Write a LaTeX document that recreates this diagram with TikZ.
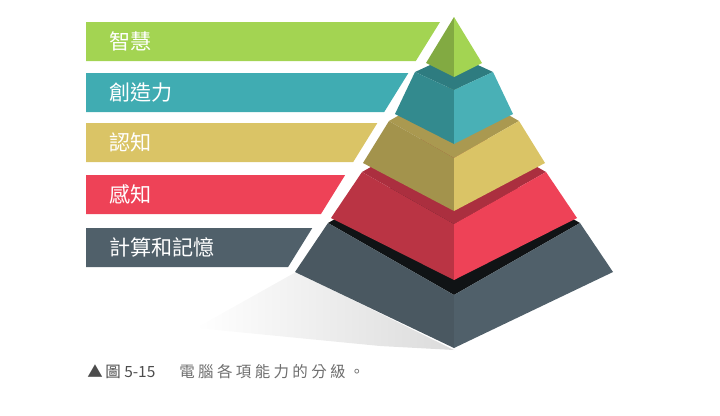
\documentclass[tikz,border=0pt]{standalone}
\usepackage{fontspec}
\newfontfamily\cjk{Noto Sans CJK TC}
\newfontfamily\cjkcap[LetterSpace=22]{Noto Sans CJK TC}
\usetikzlibrary{positioning}

\definecolor{barGreen}{RGB}{163,212,82}
\definecolor{barTeal}{RGB}{64,172,178}
\definecolor{barYellow}{RGB}{218,196,102}
\definecolor{barRed}{RGB}{238,66,87}
\definecolor{barGray}{RGB}{80,96,106}
\definecolor{capGray}{RGB}{110,110,110}

% one layer of the pyramid: top face, left face, right face
\newcommand{\pyrtier}[9]{%
  \fill[#7] (454-#1,#2) -- (454,#2+#3) -- (454+#1,#2) -- (454,#2-#3) -- cycle;
  \fill[#8] (454-#1,#2) -- (454,#2+#3) -- (454,#5+#6) -- (454-#4,#5) -- cycle;
  \fill[#9] (454+#1,#2) -- (454,#2+#3) -- (454,#5+#6) -- (454+#4,#5) -- cycle;
}

\begin{document}
\begin{tikzpicture}[x=0.025cm, y=-0.025cm,
  barlabel/.style={anchor=west, text=white, font=\cjk\fontsize{15}{15}\selectfont, inner sep=0pt},
  caption/.style={anchor=west, text=capGray, font=\cjkcap\fontsize{11}{11}\selectfont, inner sep=0pt}]
  \useasboundingbox (0,0) rectangle (720,415);
  % bars
  \foreach \yt/\col/\txt [count=\i] in {22/barGreen/智慧, 73/barTeal/創造力, 123/barYellow/認知, 175/barRed/感知, 228/barGray/計算和記憶} {
    \pgfmathsetmacro{\xa}{440-0.62*(\yt-22)}
    \pgfmathsetmacro{\xb}{440-0.62*(\yt+39-22)}
    \fill[\col] (86,\yt) -- (\xa,\yt) -- (\xb,\yt+39) -- (86,\yt+39) -- cycle;
    \node[barlabel] (lab\i) at (109,\yt+19.5) {\txt};
  }
  % shadow
  \shade[left color=white, right color=black!14] (196,328) -- (296,272) -- (454,350) -- (380,346) -- cycle;
  % pyramid, bottom up
  \pyrtier{126}{223}{72}{159}{272}{76}{black!80!barGray}{barGray!92!black}{barGray}
  \pyrtier{92}{172}{52}{123}{218}{62}{barRed!72!black}{barRed!78!black}{barRed}
  \pyrtier{65}{121}{37}{91}{163}{48}{barYellow!78!black}{barYellow!75!black}{barYellow}
  \pyrtier{39}{72}{18}{59}{114}{30}{barTeal!72!black}{barTeal!80!black}{barTeal!95!white}
  \pyrtier{0}{17}{0}{28}{63}{14}{barGreen}{barGreen!80!black}{barGreen}
  % caption
  \node[caption, font=\cjk\fontsize{11}{11}\selectfont, text=black!70] (fig) at (87,372) {▲\,圖 5-15};
  \node[caption] (title) at (179,372) {電腦各項能力的分級。};
\end{tikzpicture}
\end{document}
